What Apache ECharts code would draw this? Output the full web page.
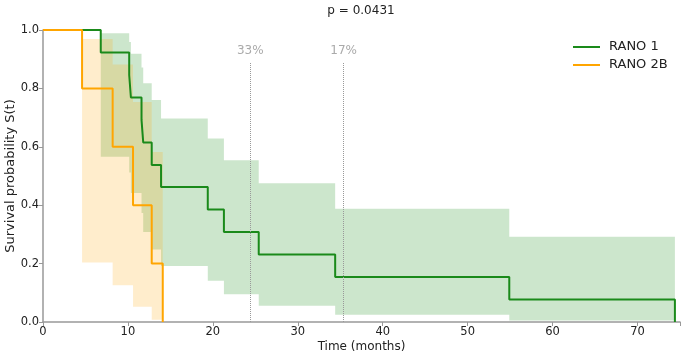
<!DOCTYPE html>
<html>
<head>
<meta charset="utf-8">
<script src="https://cdn.jsdelivr.net/npm/echarts@6/dist/echarts.min.js"></script>
<style>html,body{margin:0;padding:0;background:#fff}#c{width:685px;height:358px}</style>
</head>
<body>
<div id="c"></div>
<script>
// Kaplan-Meier data
const rano1Times = [6.8, 10.15, 10.35, 11.6, 11.8, 12.8, 13.9, 19.4, 21.3, 25.4, 34.4, 54.9, 74.4];
const rano1Surv  = [0.923, 0.846, 0.769, 0.692, 0.615, 0.538, 0.462, 0.385, 0.308, 0.231, 0.154, 0.077, 0];
const rano1Lower = [0.566, 0.512, 0.442, 0.373, 0.308, 0.248, 0.192, 0.141, 0.095, 0.056, 0.025, 0.005];
const rano1Upper = [0.989, 0.959, 0.919, 0.872, 0.818, 0.760, 0.697, 0.628, 0.554, 0.475, 0.388, 0.292];

const rano2bTimes = [4.6, 8.2, 10.6, 12.8, 14.1];
const rano2bSurv  = [0.8, 0.6, 0.4, 0.2, 0];
const rano2bLower = [0.204, 0.126, 0.052, 0.008];
const rano2bUpper = [0.969, 0.882, 0.753, 0.582];

const markerTimes  = [24.4, 35.4];
const markerLabels = ['33%', '17%'];
const markerTop = 0.89;

const seriesNames = ['RANO 1', 'RANO 2B'];
const pValueText = 'p = 0.0431';

const FONT = 'DejaVu Sans';
const GREEN = '#1a8a1a';
const ORANGE = '#ffa500';

function stepPoints(times, surv) {
  const pts = [[0, 1]];
  let prev = 1;
  for (let i = 0; i < times.length; i++) {
    pts.push([times[i], prev]);
    pts.push([times[i], surv[i]]);
    prev = surv[i];
  }
  return pts;
}
function bandItems(times, lower, upper) {
  const items = [];
  for (let i = 0; i < lower.length; i++) items.push([times[i], times[i + 1], lower[i], upper[i]]);
  return items;
}
function bandSeries(name, items, fill) {
  return {
    type: 'custom', name: name + ' CI', silent: true, z: 1,
    data: items,
    encode: { x: [0, 1], y: [2, 3] },
    renderItem: function (params, api) {
      if (params.dataIndex !== 0) return null;
      const pts = [];
      for (const it of items) { pts.push(api.coord([it[0], it[3]])); pts.push(api.coord([it[1], it[3]])); }
      for (let k = items.length - 1; k >= 0; k--) { const it = items[k]; pts.push(api.coord([it[1], it[2]])); pts.push(api.coord([it[0], it[2]])); }
      return { type: 'polygon', shape: { points: pts }, style: { fill: fill } };
    }
  };
}

const chart = echarts.init(document.getElementById('c'), null, { renderer: 'canvas' });
const markData = markerTimes.map((t, i) => [
  { coord: [t, 0], label: { formatter: markerLabels[i] } },
  { coord: [t, markerTop] }
]);

chart.setOption({
  animation: false,
  textStyle: { fontFamily: FONT },
  grid: { left: 43, right: 5, top: 30, bottom: 36, containLabel: false, outerBoundsMode: 'none' },
  graphic: [{
    type: 'text', x: 361, y: 11,
    style: { text: pValueText, align: 'center', verticalAlign: 'middle', font: '12px "DejaVu Sans"', fill: '#222' }
  }],
  legend: {
    orient: 'vertical', left: 573, top: 38, itemGap: 0, padding: 0,
    icon: 'rect', itemWidth: 27, itemHeight: 2,
    data: seriesNames,
    textStyle: { fontFamily: FONT, fontSize: 13, color: '#222', lineHeight: 18, padding: [0, 0, 0, 4] }
  },
  xAxis: {
    type: 'value', min: 0, max: 75, interval: 10,
    name: 'Time (months)', nameLocation: 'middle', nameGap: 19, nameMoveOverlap: false,
    nameTextStyle: { fontFamily: FONT, fontSize: 12, color: '#222' },
    axisLine: { lineStyle: { color: '#999', width: 1.5 } },
    axisTick: { lineStyle: { color: '#999' }, length: 4 },
    axisLabel: { fontFamily: FONT, fontSize: 11.5, color: '#222', margin: 4,
      formatter: v => (v <= 70 ? String(v) : '') },
    splitLine: { show: false }
  },
  yAxis: {
    type: 'value', min: 0, max: 1, interval: 0.2,
    name: 'Survival probability S(t)', nameLocation: 'middle', nameGap: 26, nameMoveOverlap: false,
    nameTextStyle: { fontFamily: FONT, fontSize: 13, color: '#222' },
    axisLine: { show: true, lineStyle: { color: '#999', width: 1.5 } },
    axisTick: { show: true, lineStyle: { color: '#999' }, length: 4 },
    axisLabel: { fontFamily: FONT, fontSize: 11.5, color: '#222', margin: 4, formatter: v => v.toFixed(1) },
    splitLine: { show: false }
  },
  series: [
    bandSeries(seriesNames[0], bandItems(rano1Times, rano1Lower, rano1Upper), 'rgba(0,128,0,0.2)'),
    {
      type: 'line', name: seriesNames[0], data: stepPoints(rano1Times, rano1Surv),
      symbol: 'none', z: 3, color: GREEN, lineStyle: { color: GREEN, width: 2 },
      markLine: {
        silent: true, symbol: 'none',
        lineStyle: { color: '#999', type: 'dotted', width: 1 },
        label: { show: true, position: 'end', color: '#aaa', fontFamily: FONT, fontSize: 12, distance: 5 },
        data: markData
      }
    },
    bandSeries(seriesNames[1], bandItems(rano2bTimes, rano2bLower, rano2bUpper), 'rgba(255,165,0,0.2)'),
    {
      type: 'line', name: seriesNames[1], data: stepPoints(rano2bTimes, rano2bSurv),
      symbol: 'none', z: 3, color: ORANGE, lineStyle: { color: ORANGE, width: 2 }
    }
  ]
});
</script>
</body>
</html>
